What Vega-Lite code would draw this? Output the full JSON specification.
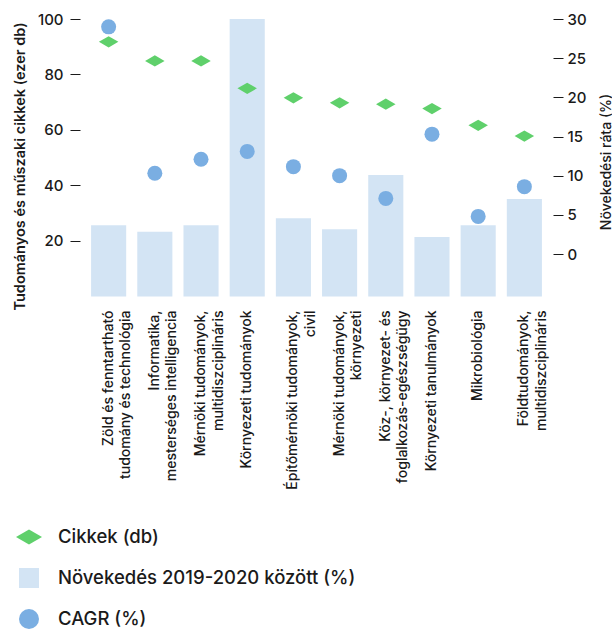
{
  "$schema": "https://vega.github.io/schema/vega-lite/v6.json",
  "autosize": {"type": "none"},
  "width": 473,
  "height": 273,
  "padding": {"left": 80, "top": 19, "right": 59, "bottom": 338},
  "background": "white",
  "config": {
    "font": "Inter",
    "view": {"stroke": null},
    "axis": {"labelColor": "#1a1a1a", "titleColor": "#1a1a1a", "tickColor": "#1a1a1a", "domain": false, "grid": false},
    "legend": {
      "orient": "none",
      "legendX": -61,
      "legendY": 508,
      "direction": "vertical",
      "title": null,
      "padding": 0,
      "symbolSize": 400,
      "symbolStrokeWidth": 0,
      "symbolOpacity": 1,
      "labelFont": "Inter",
      "labelFontSize": 18.5,
      "labelFontWeight": 500,
      "labelColor": "#1a1a1a",
      "labelOffset": 19,
      "labelLimit": 0,
      "rowPadding": 21
    }
  },
  "data": {
    "values": [
      {"kat": "Zöld és fenntartható\ntudomány és technológia", "cikkek": 91.8, "novekedes": 25.7, "cagr": 29.0},
      {"kat": "Informatika,\nmesterséges intelligencia", "cikkek": 84.9, "novekedes": 23.3, "cagr": 10.3},
      {"kat": "Mérnöki tudományok,\nmultidiszciplináris", "cikkek": 84.9, "novekedes": 25.7, "cagr": 12.1},
      {"kat": "Környezeti tudományok", "cikkek": 75.0, "novekedes": 100, "cagr": 13.1},
      {"kat": "Építőmérnöki  tudományok,\ncivil", "cikkek": 71.6, "novekedes": 28.2, "cagr": 11.15},
      {"kat": "Mérnöki  tudományok,\nkörnyezeti", "cikkek": 69.8, "novekedes": 24.2, "cagr": 10.0},
      {"kat": "Köz-, környezet- és\nfoglalkozás-egészségügy", "cikkek": 69.3, "novekedes": 43.8, "cagr": 7.1},
      {"kat": "Környezeti tanulmányok", "cikkek": 67.7, "novekedes": 21.4, "cagr": 15.3},
      {"kat": "Mikrobiológia", "cikkek": 61.7, "novekedes": 25.7, "cagr": 4.8},
      {"kat": "Földtudományok,\nmultidiszciplináris", "cikkek": 57.8, "novekedes": 35.1, "cagr": 8.6}
    ]
  },
  "encoding": {
    "x": {
      "field": "kat",
      "type": "nominal",
      "sort": null,
      "scale": {"paddingInner": 0.24, "paddingOuter": 0.24},
      "axis": {
        "title": null,
        "labelAngle": -90,
        "labelExpr": "split(datum.value, '\\n')",
        "labelFontSize": 14,
        "labelFontWeight": 500,
        "labelLineHeight": 17.5,
        "labelPadding": 18,
        "labelLimit": 0,
        "labelOverlap": false,
        "labelBound": false,
        "ticks": false,
        "domain": false
      }
    }
  },
  "layer": [
    {
      "layer": [
        {
          "mark": {"type": "bar"},
          "encoding": {
            "y": {
              "field": "novekedes",
              "type": "quantitative",
              "scale": {"domain": [1.6, 100], "nice": false, "zero": false},
              "axis": {
                "orient": "left",
                "values": [20, 40, 60, 80, 100],
                "tickSize": 10,
                "labelPadding": 7,
                "labelFontSize": 15,
                "labelFontWeight": 500,
                "title": "Tudományos és műszaki cikkek (ezer db)",
                "titleFontSize": 14.5,
                "titleFontWeight": 600,
                "titleAngle": -90,
                "titleX": -60,
                "titleY": 147,
                "titleAlign": "center",
                "titleBaseline": "middle"
              }
            },
            "color": {
              "datum": "Növekedés 2019-2020 között (%)",
              "scale": {
                "domain": ["Cikkek (db)", "Növekedés 2019-2020 között (%)", "CAGR (%)"],
                "range": ["#5fd06b", "#d3e4f4", "#7aaee2"]
              }
            }
          }
        },
        {
          "mark": {"type": "point", "filled": true, "opacity": 1, "size": 225, "strokeWidth": 0},
          "encoding": {
            "y": {"field": "cikkek", "type": "quantitative"},
            "color": {"datum": "Cikkek (db)"},
            "shape": {
              "datum": "Cikkek (db)",
              "scale": {
                "domain": ["Cikkek (db)", "Növekedés 2019-2020 között (%)", "CAGR (%)"],
                "range": ["M-1.3,0L0,-0.75L1.3,0L0,0.75Z", "square", "circle"]
              }
            }
          }
        }
      ]
    },
    {
      "mark": {"type": "point", "filled": true, "opacity": 1, "size": 225, "strokeWidth": 0},
      "encoding": {
        "y": {
          "field": "cagr",
          "type": "quantitative",
          "scale": {"domain": [-4.85, 30], "nice": false, "zero": false},
          "axis": {
            "orient": "right",
            "values": [0, 5, 10, 15, 20, 25, 30],
            "tickSize": 10,
            "labelPadding": 4,
            "labelFontSize": 15,
            "labelFontWeight": 500,
            "title": "Növekedési ráta (%)",
            "titleFontSize": 14,
            "titleFontWeight": 500,
            "titleAngle": -90,
            "titleX": 53,
            "titleY": 142.5,
            "titleAlign": "center",
            "titleBaseline": "middle"
          }
        },
        "color": {"datum": "CAGR (%)"},
        "shape": {"datum": "CAGR (%)"}
      }
    }
  ],
  "resolve": {"scale": {"y": "independent"}, "axis": {"y": "independent"}}
}
